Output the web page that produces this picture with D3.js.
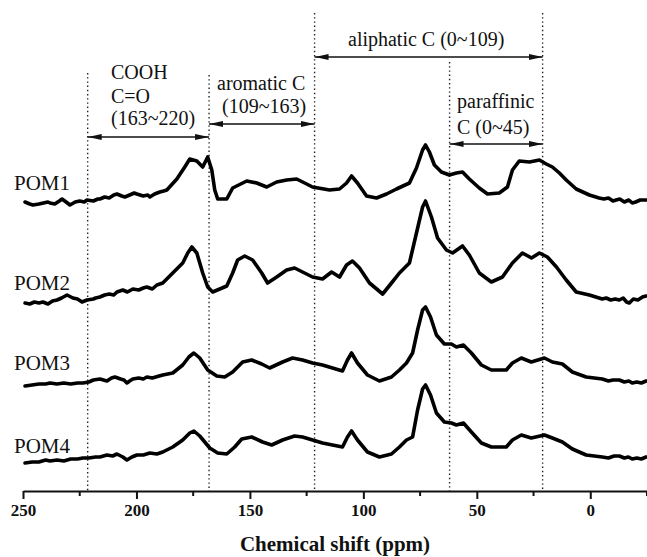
<!DOCTYPE html>
<html>
<head>
<meta charset="utf-8">
<script src="https://cdn.jsdelivr.net/npm/d3@7"></script>
<style>
  body { margin: 0; background: #fff; }
</style>
</head>
<body>
<div id="d3-container"></div>
<script>
/** DATA */
// [chemical shift (ppm), intensity above own baseline]
const pom1 = [[249.1,1],[247,-1],[245.6,-2],[243,-1],[241,0],[239,1],[238.1,0],[236,-1],[234,2],[232.8,4],[231,1],[229.3,-2],[227,1],[225,2],[223,1],[221.8,3],[219,2],[217,4],[216.1,4],[214,6],[212,5],[210,8],[208.6,9],[206.5,7],[205.1,6],[203,8],[201,10],[199.8,9],[197,7],[195,8],[194.1,6],[192,9],[189.7,11],[188,12],[186.6,13],[182.2,24],[178.7,36],[176.5,44],[173.4,42],[170.8,36],[168.6,46],[166.8,33],[165.5,13],[164.2,4],[160.2,4],[157.6,15],[151.4,22],[147.0,20],[142.6,16],[138.2,21],[133.8,23],[129.4,24],[125.0,19],[122.4,16],[114.9,13],[110.5,14],[107.4,20],[105.2,27],[102.6,20],[98.6,7],[94.2,5],[89.8,9],[85.4,14],[79.7,20],[76.6,35],[73.9,53],[72.6,58],[70.9,51],[68.7,38],[65.6,31],[62.1,28],[59.0,30],[56.3,31],[53.3,24],[48.9,15],[45.3,9],[40.1,10],[36.5,16],[34.3,33],[31.3,42],[26.8,41],[22.4,43],[19.4,39],[16.7,36],[13.6,30],[10.6,23],[6.2,14],[0.4,8],[-3.9,5],[-6,4],[-8,5],[-10,2],[-11.4,3],[-13,4],[-15,1],[-17,3],[-18.5,0],[-20,1],[-22,3],[-24.6,3]];
const pom2 = [[249.1,0],[247,-1],[245,1],[243,0],[241.2,1],[239,-1],[237,2],[235,3],[233,5],[230.6,8],[228,5],[226,4],[224,1],[221.8,3],[219,4],[218,5],[216.1,6],[214,8],[212,9],[210,8],[208.6,11],[206,13],[204,11],[201.6,14],[199,13],[197,15],[195.4,16],[193,14],[191,18],[188.4,20],[184.0,30],[179.6,40],[177.4,50],[175.6,56],[173.4,50],[170.8,30],[168.6,16],[166.4,11],[160.2,17],[157.6,30],[155.4,43],[152.3,47],[148.8,43],[144.8,30],[142.2,20],[138.2,26],[133.8,33],[130.3,35],[126.8,31],[122.4,26],[118.0,24],[114.0,31],[110.5,26],[107.4,38],[104.8,42],[101.7,35],[97.3,20],[91.5,9],[87.6,20],[84.1,30],[79.7,40],[76.6,70],[73.9,96],[72.6,102],[70.0,86],[67.3,65],[63.4,53],[60.7,50],[56.3,57],[53.3,48],[48.9,30],[43.6,21],[38.7,26],[34.3,40],[29.9,50],[25.9,45],[22.4,50],[18.9,46],[14.9,36],[10.6,23],[6.2,11],[0.4,8],[-5.3,4],[-7,5],[-9,3],[-11,4],[-12.8,3],[-14.5,5],[-16,1],[-17.2,0],[-19,4],[-21,3],[-23,6],[-24.6,7]];
const pom3 = [[249.1,0],[246,1],[243,2],[240,2],[238.1,3],[235,2],[232,3],[229,2],[226,3],[223.6,3],[221,4],[219,6],[216.1,7],[213,5],[211,8],[209.5,9],[207,7],[205.5,6],[204.2,3],[203,5],[201.6,7],[199,8],[197,7],[195.4,9],[193,8],[190,10],[188.4,11],[184.0,13],[179.6,21],[176.9,29],[174.7,33],[172.1,28],[168.6,16],[164.6,10],[161.1,9],[157.6,14],[153.2,24],[149.2,26],[144.8,22],[141.3,18],[135.6,24],[131.2,28],[126.8,26],[122.4,23],[118.0,21],[113.6,18],[109.2,15],[107.0,26],[105.2,33],[102.6,23],[98.2,11],[92.9,5],[87.6,9],[84.1,16],[81.0,23],[78.3,33],[76.1,56],[73.9,76],[72.6,79],[70.4,69],[67.8,51],[64.3,42],[61.2,42],[59.0,39],[55.9,41],[52.4,33],[48.0,21],[43.6,16],[37.0,16],[34.3,23],[30.4,28],[26.0,24],[20.2,28],[16.7,24],[12.3,22],[7.9,14],[1.8,9],[-5.3,7],[-8,5],[-10,6],[-12.8,6],[-15,4],[-17,5],[-18.5,3],[-20.5,4],[-22.5,3],[-24.6,5]];
const pom4 = [[249.1,0],[246,1],[243,1],[240,3],[238.1,2],[235,3],[232,2],[229,4],[226,4],[223.6,5],[221,5],[218,6],[216.1,6],[213,8],[210.5,7],[208.6,9],[206,6],[204.2,3],[202,6],[199.8,8],[197,8],[194.1,10],[191,9],[188.4,11],[184.0,16],[179.6,23],[176.5,30],[174.7,32],[172.1,27],[167.7,15],[164.2,10],[160.2,9],[156.7,16],[153.6,24],[149.2,26],[144.4,21],[140.4,18],[135.6,23],[130.3,27],[126.8,26],[122.4,23],[118.0,20],[113.6,18],[109.2,16],[107.0,26],[105.2,32],[102.6,23],[98.2,11],[92.9,6],[87.6,9],[84.1,16],[81.0,23],[78.3,26],[76.1,53],[73.9,74],[72.6,78],[70.4,68],[67.8,50],[64.3,41],[61.2,40],[59.0,38],[55.9,40],[52.4,31],[48.0,20],[43.6,16],[37.0,16],[34.3,23],[30.4,28],[26.0,25],[20.2,28],[16.7,25],[12.3,21],[7.9,14],[1.8,8],[-5.3,6],[-8,5],[-10.5,7],[-12.8,7],[-15,5],[-16.8,6],[-18.5,4],[-20.5,5],[-22.5,4],[-24.6,6]];

const sampleNames = ["POM1", "POM2", "POM3", "POM4"];
const spectra = [pom1, pom2, pom3, pom4];
const offsets = [288, 188, 105, 28];

const majorTicks = [250, 200, 150, 100, 50, 0];
const minorTicks = [225, 175, 125, 75, 25, -25];

// region boundaries as drawn (ppm)
const boundaries = [221.5, 168, 121.5, 62, 21];

/** CONSTANTS */
const width = 647,
  height = 557,
  axisY = 491,
  serif = "'Liberation Serif', 'Times New Roman', Times, serif";

/** SCALES */
const xScale = d3.scaleLinear().domain([250, -25]).range([23, 647]);
const yScale = d3.scaleLinear().domain([0, axisY]).range([axisY, 0]);

/** MAIN CODE */
const svg = d3.select("#d3-container")
  .append("svg")
  .attr("width", width)
  .attr("height", height)
  .attr("font-family", serif);

// arrow markers
const defs = svg.append("defs");
["start", "end"].forEach(k => {
  defs.append("marker")
    .attr("id", "arrow-" + k)
    .attr("viewBox", "0 0 14 8")
    .attr("refX", k === "end" ? 14 : 0)
    .attr("refY", 4)
    .attr("markerWidth", 14)
    .attr("markerHeight", 8)
    .attr("markerUnits", "userSpaceOnUse")
    .attr("orient", "auto")
    .append("path")
    .attr("d", k === "end" ? "M0,1L14,4L0,7Z" : "M14,1L0,4L14,7Z")
    .attr("fill", "#111");
});

// dotted boundary lines
const lineTops = [73, 75, 13, 62, 13];
svg.selectAll(".boundary")
  .data(boundaries)
  .join("line")
  .attr("class", "boundary")
  .attr("x1", d => xScale(d))
  .attr("x2", d => xScale(d))
  .attr("y1", (d, i) => lineTops[i])
  .attr("y2", axisY)
  .attr("stroke", "#222")
  .attr("stroke-width", 1.4)
  .attr("stroke-dasharray", "1.4,2.8");

// range arrows
const arrows = [
  { from: 221.5, to: 168, y: 137 },
  { from: 168, to: 121.5, y: 124 },
  { from: 121.5, to: 21, y: 57 },
  { from: 62, to: 21, y: 144 }
];
svg.selectAll(".arrow")
  .data(arrows)
  .join("line")
  .attr("class", "arrow")
  .attr("x1", d => xScale(d.from))
  .attr("x2", d => xScale(d.to))
  .attr("y1", d => d.y)
  .attr("y2", d => d.y)
  .attr("stroke", "#111")
  .attr("stroke-width", 1.6)
  .attr("marker-start", "url(#arrow-start)")
  .attr("marker-end", "url(#arrow-end)");

// region labels
const labels = [
  { t: "COOH", x: 111, y: 79 },
  { t: "C=O", x: 111, y: 103 },
  { t: "(163~220)", x: 111, y: 125 },
  { t: "aromatic C", x: 217, y: 90 },
  { t: "(109~163)", x: 222, y: 113 },
  { t: "aliphatic C (0~109)", x: 348, y: 46 },
  { t: "paraffinic", x: 457, y: 108 },
  { t: "C (0~45)", x: 457, y: 134 }
];
svg.selectAll(".region-label")
  .data(labels)
  .join("text")
  .attr("class", "region-label")
  .attr("x", d => d.x)
  .attr("y", d => d.y)
  .attr("font-family", serif)
  .attr("font-size", 20)
  .attr("fill", "#111")
  .text(d => d.t);

// spectra
spectra.forEach((s, i) => {
  const line = d3.line()
    .x(d => xScale(d[0]))
    .y(d => yScale(d[1] + offsets[i]));
  svg.append("path")
    .datum(s)
    .attr("d", line)
    .attr("fill", "none")
    .attr("stroke", "#000")
    .attr("stroke-width", 3.6)
    .attr("stroke-linejoin", "round")
    .attr("stroke-linecap", "round");
});

// sample names
const nameY = [190, 290, 370, 453];
svg.selectAll(".name")
  .data(sampleNames)
  .join("text")
  .attr("class", "name")
  .attr("x", 14)
  .attr("y", (d, i) => nameY[i])
  .attr("font-family", serif)
  .attr("font-size", 21)
  .attr("fill", "#111")
  .text(d => d);

// x axis
const xAxis = d3.axisBottom(xScale)
  .tickValues(majorTicks)
  .tickSize(8)
  .tickSizeOuter(0)
  .tickFormat(d3.format("d"));

const gx = svg.append("g")
  .attr("transform", `translate(0, ${axisY})`)
  .call(xAxis)
  .attr("font-family", serif);
gx.select(".domain").attr("stroke", "#111").attr("stroke-width", 2);
gx.selectAll(".tick line").attr("stroke", "#111").attr("stroke-width", 2);
gx.selectAll(".tick text")
  .attr("font-family", serif)
  .attr("font-weight", "bold")
  .attr("font-size", 17)
  .attr("fill", "#111")
  .attr("dy", "0.8em");

gx.selectAll(".minor")
  .data(minorTicks)
  .join("line")
  .attr("class", "minor")
  .attr("x1", d => xScale(d))
  .attr("x2", d => xScale(d))
  .attr("y1", 0)
  .attr("y2", 5)
  .attr("stroke", "#111")
  .attr("stroke-width", 2);

svg.append("text")
  .attr("x", 335)
  .attr("y", 551)
  .attr("text-anchor", "middle")
  .attr("font-family", serif)
  .attr("font-weight", "bold")
  .attr("font-size", 21)
  .attr("fill", "#111")
  .text("Chemical shift (ppm)");
</script>
</body>
</html>
